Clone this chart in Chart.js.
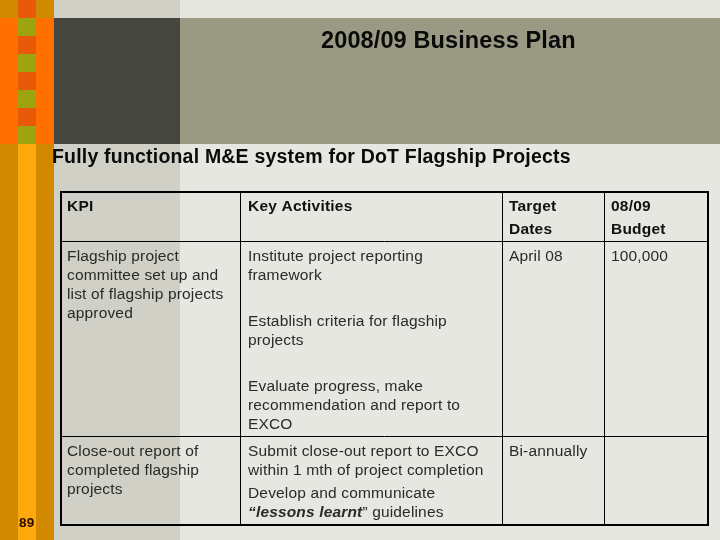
<!DOCTYPE html>
<html><head><meta charset="utf-8">
<style>html,body{margin:0;padding:0;background:#e6e7e1}canvas{display:block}</style>
<script src="https://cdn.jsdelivr.net/npm/chart.js@4"></script>
</head><body><canvas id="c" width="720" height="540"></canvas>
<script>
// ---- slide text ----
const slideTitle = "2008/09 Business Plan";
const slideHeading = "Fully functional M&E system for DoT Flagship Projects";
const pageNumber = "89";
const tableHeaders = [["KPI"],["Key Activities"],["Target","Dates"],["08/09","Budget"]];
const kpiCells = [["Flagship project","committee set up and","list of flagship projects","approved"],["Close-out report of","completed flagship","projects"]];
const activityBlocks = [["Institute project reporting","framework"],["Establish criteria for flagship","projects"],["Evaluate progress, make","recommendation and report to","EXCO"],["Submit close-out report to EXCO","within 1 mth of project completion"],["Develop and communicate"]];
const targetDates = ["April 08","Bi-annually"];
const budgets = ["100,000"];
// ---- table geometry ----
const colLines = [61,240.5,502.5,604.5,708];
const rowLines = [192,241.5,436.5,525];
const textCols = [67,248,509,611];
const W=720,H=540;
function seg(x1,y1,x2,y2,w){return {type:'scatter',showLine:true,pointRadius:0,borderColor:'#000',borderWidth:w,data:[{x:x1,y:y1},{x:x2,y:y2}]};}
const ds=[];
ds.push(seg(colLines[0]-1,rowLines[0],colLines[4]+1,rowLines[0],2));
ds.push(seg(colLines[0]-1,rowLines[3],colLines[4]+1,rowLines[3],2));
ds.push(seg(colLines[0],rowLines[0],colLines[0],rowLines[3],2));
ds.push(seg(colLines[4],rowLines[0],colLines[4],rowLines[3],2));
[1,2].forEach(i=>ds.push(seg(colLines[0],rowLines[i],colLines[4],rowLines[i],1)));
[1,2,3].forEach(i=>ds.push(seg(colLines[i],rowLines[0],colLines[i],rowLines[3],1)));
const blocks=[
 [0,0,18,18,'#d18a00'],[18,0,36,18,'#e8590a'],[36,0,54,18,'#d18a00'],
 [0,18,54,144,'#ff7000'],
 [18,18,36,36,'#9ca50e'],[18,36,36,54,'#e8590a'],[18,54,36,72,'#9ca50e'],[18,72,36,90,'#e8590a'],
 [18,90,36,108,'#9ca50e'],[18,108,36,126,'#e8590a'],[18,126,36,144,'#9ca50e'],
 [0,144,18,540,'#d18a00'],[18,144,36,540,'#ffa80c'],[36,144,54,540,'#d18a00'],
 [54,0,180,18,'#d0d0c6'],[54,144,180,540,'#d0d0c6'],[180,0,720,18,'#e6e7e1'],[180,144,720,540,'#e6e7e1'],
 [54,18,180,144,'#44463f'],[180,18,720,144,'#9a9a84']];
const F='"Liberation Sans",Arial,sans-serif';
const bg={id:'bg',beforeDatasetsDraw(ch){const c=ch.ctx,x=ch.scales.x,y=ch.scales.y;
 blocks.forEach(b=>{c.fillStyle=b[4];const a=x.getPixelForValue(b[0]),t=y.getPixelForValue(b[1]);
  c.fillRect(a,t,x.getPixelForValue(b[2])-a,y.getPixelForValue(b[3])-t);});}};
const txt={id:'txt',afterDatasetsDraw(ch){const c=ch.ctx,X=ch.scales.x,Y=ch.scales.y;
 function put(s,x,y,font,sp,col){c.font=font+' '+F;c.letterSpacing=(sp||0)+'px';c.fillStyle=col||'#2a2a2a';c.textBaseline='alphabetic';c.textAlign='left';
  c.fillText(s,X.getPixelForValue(x),Y.getPixelForValue(y));const w=c.measureText(s).width;return x+w;}
 const lines=(arr,x,y,lh,font,sp,col)=>arr.forEach((s,i)=>put(s,x,y+i*lh,font,sp,col));
 put(slideTitle,321,48,'bold 23.5px',0.12,'#0a0a0a');
 put(slideHeading,52,163,'bold 19.5px',0.2,'#0a0a0a');
 put(pageNumber,19,527,'bold 13.5px',0.3,'#2a0a00');
 const B='bold 15.5px',N='15.5px',hs=0.2,ns=0.16,HC='#111';
 lines(tableHeaders[0],textCols[0],211,23,B,hs,HC);
 lines(tableHeaders[1],textCols[1],211,23,B,hs,HC);
 lines(tableHeaders[2],textCols[2],211,23,B,hs,HC);
 lines(tableHeaders[3],textCols[3],211,23,B,hs,HC);
 lines(kpiCells[0],textCols[0],261,19,N,ns);
 lines(kpiCells[1],textCols[0],456,19,N,ns);
 lines(activityBlocks[0],textCols[1],261,19,N,ns);
 lines(activityBlocks[1],textCols[1],326,19,N,ns);
 lines(activityBlocks[2],textCols[1],391,19,N,ns);
 lines(activityBlocks[3],textCols[1],456,19,N,ns);
 lines(activityBlocks[4],textCols[1],498,19,N,ns);
 let e=put("“lessons learnt",textCols[1],517,'italic bold 15.5px',ns);
 e=put("”",e,517,N,ns);
 put(" guidelines",e,517,N,ns);
 put(targetDates[0],textCols[2],261,N,ns);
 put(targetDates[1],textCols[2],456,N,ns);
 put(budgets[0],textCols[3],261,N,ns);
}};
new Chart(document.getElementById('c'),{type:'scatter',data:{datasets:ds},plugins:[bg,txt],
 options:{responsive:false,animation:false,devicePixelRatio:1,layout:{padding:0},
  plugins:{legend:{display:false},tooltip:{enabled:false},title:{display:false}},
  scales:{x:{type:'linear',min:0,max:W,display:false},y:{type:'linear',min:0,max:H,reverse:true,display:false}}}});
</script></body></html>
